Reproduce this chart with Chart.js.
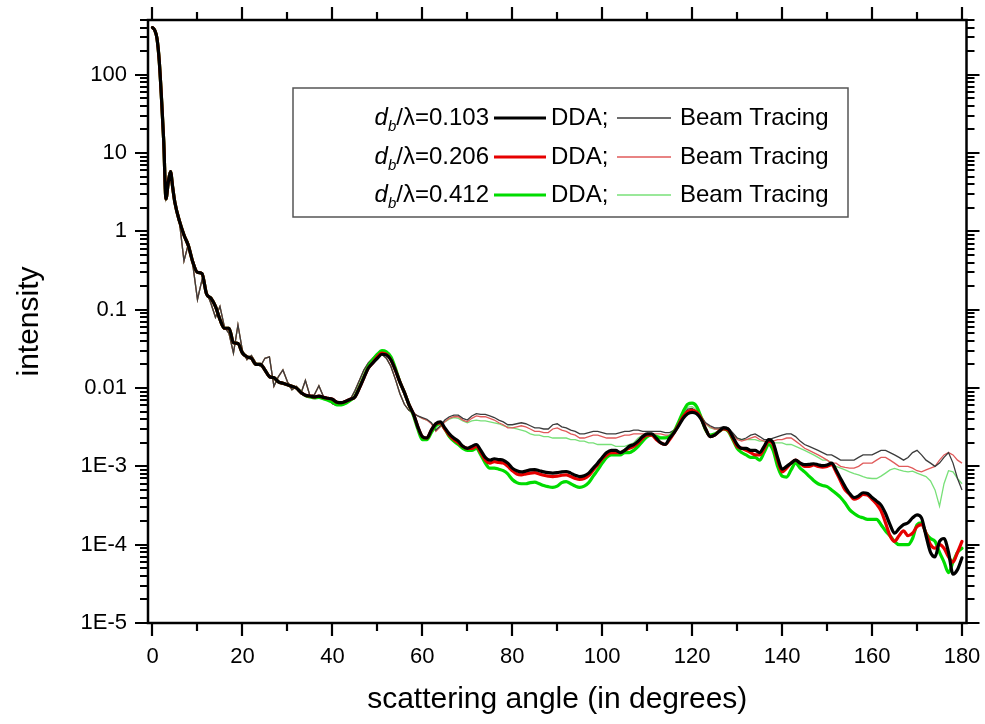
<!DOCTYPE html>
<html>
<head>
<meta charset="utf-8">
<script src="https://cdn.jsdelivr.net/npm/chart.js@4.4.0/dist/chart.umd.min.js"></script>
<style>
  html, body { margin: 0; padding: 0; background: #fff; }
  #wrap { width: 985px; height: 724px; }
</style>
</head>
<body>
<div id="wrap"><canvas id="chart" width="985" height="724"></canvas></div>
<script>
// Scattering angle grid (degrees), shared by every series
const angles = [
  0, 0.5, 1, 1.5, 2, 2.5, 3, 3.5, 4, 4.5,
  5, 6, 7, 8, 9,
  10, 11, 12, 13, 14, 15, 16, 17, 18, 19,
  20, 21, 22, 23, 24, 25, 26, 27, 28, 29,
  30, 31, 32, 33, 34, 35, 36, 37, 38, 39,
  40, 41, 42, 43, 44, 45, 46, 47, 48, 49,
  50, 51, 52, 53, 54, 55, 56, 57, 58, 59,
  60, 61, 62, 63, 64, 65, 66, 67, 68, 69,
  70, 71, 72, 73, 74, 75, 76, 77, 78, 79,
  80, 81, 82, 83, 84, 85, 86, 87, 88, 89,
  90, 91, 92, 93, 94, 95, 96, 97, 98, 99,
  100, 101, 102, 103, 104, 105, 106, 107, 108, 109,
  110, 111, 112, 113, 114, 115, 116, 117, 118, 119,
  120, 121, 122, 123, 124, 125, 126, 127, 128, 129,
  130, 131, 132, 133, 134, 135, 136, 137, 138, 139,
  140, 141, 142, 143, 144, 145, 146, 147, 148, 149,
  150, 151, 152, 153, 154, 155, 156, 157, 158, 159,
  160, 161, 162, 163, 164, 165, 166, 167, 168, 169,
  170, 171, 172, 173, 174, 175, 176, 177, 178, 179,
  180
];

// DDA, d_b/lambda = 0.103 (thick black)
const dda103 = [
  400, 370, 290, 150, 50, 14, 2.6, 4.2, 5.8, 3.6,
  2.3, 1.35, 0.9, 0.65, 0.40,
  0.30, 0.29, 0.16, 0.14, 0.11, 0.075, 0.058, 0.058, 0.038, 0.037,
  0.028, 0.025, 0.024, 0.020, 0.020, 0.017, 0.014, 0.0135, 0.012, 0.0115,
  0.011, 0.0105, 0.0100, 0.0088, 0.0081, 0.0079, 0.0077, 0.0079, 0.0076, 0.0074,
  0.0072, 0.0066, 0.0065, 0.0068, 0.0072, 0.0077, 0.0100, 0.0135, 0.018, 0.021,
  0.024, 0.027, 0.0265, 0.023, 0.017, 0.012, 0.0088, 0.0062, 0.0047, 0.0032,
  0.0024, 0.0023, 0.0029, 0.0035, 0.0037, 0.0031, 0.0026, 0.0023, 0.0021, 0.0018,
  0.0017, 0.0018, 0.0019, 0.0016, 0.0013, 0.0012, 0.00125, 0.00122, 0.0012, 0.0011,
  0.00095, 0.00088, 0.00085, 0.00087, 0.0009, 0.00091, 0.00088, 0.00085, 0.00083, 0.00082,
  0.00083, 0.00085, 0.00086, 0.00082, 0.00077, 0.00074, 0.00076, 0.00082, 0.00095, 0.0011,
  0.0013, 0.0015, 0.0016, 0.0016, 0.0015, 0.0016, 0.0018, 0.0019, 0.0021, 0.0024,
  0.0026, 0.0026, 0.0023, 0.0020, 0.0019, 0.0023, 0.0027, 0.0033, 0.0041, 0.0047,
  0.0049, 0.0047, 0.0040, 0.0030, 0.0024, 0.0025, 0.0028, 0.0031, 0.0030, 0.0024,
  0.0019, 0.0017, 0.0017, 0.0016, 0.0016, 0.0015, 0.0018, 0.0022, 0.0020, 0.0013,
  0.00092, 0.0010, 0.0011, 0.0012, 0.0011, 0.00105, 0.00106, 0.00108, 0.00105, 0.00102,
  0.00104, 0.0011, 0.0009, 0.0007, 0.00055, 0.00045, 0.00040, 0.00042, 0.00046, 0.00045,
  0.0004, 0.00036, 0.00032, 0.00025, 0.00018, 0.00014, 0.00016, 0.00018, 0.00019, 0.00022,
  0.00024, 0.00022, 0.00013, 0.00008, 0.00007, 0.00011, 0.00012, 0.00008, 0.000042, 0.000048,
  0.000068
];

// DDA, d_b/lambda = 0.206 (thick red)
const dda206 = [
  400, 370, 290, 150, 50, 14, 2.6, 4.2, 5.8, 3.6,
  2.3, 1.35, 0.9, 0.65, 0.40,
  0.30, 0.29, 0.16, 0.14, 0.11, 0.075, 0.058, 0.058, 0.038, 0.037,
  0.028, 0.025, 0.024, 0.020, 0.020, 0.017, 0.014, 0.0135, 0.012, 0.0115,
  0.011, 0.0105, 0.0100, 0.0088, 0.0081, 0.0079, 0.0077, 0.0079, 0.0076, 0.0074,
  0.0072, 0.0066, 0.0065, 0.0068, 0.0072, 0.0077, 0.0100, 0.0135, 0.018, 0.021,
  0.025, 0.028, 0.027, 0.023, 0.017, 0.012, 0.0088, 0.0062, 0.0047, 0.0032,
  0.0024, 0.0023, 0.0029, 0.0035, 0.0036, 0.0030, 0.0025, 0.0022, 0.0020, 0.0018,
  0.0017, 0.0017, 0.0018, 0.0015, 0.0012, 0.0011, 0.00115, 0.00112, 0.0011, 0.0010,
  0.00088, 0.00080, 0.00078, 0.00080, 0.00082, 0.00083, 0.0008, 0.00077, 0.00075, 0.00074,
  0.00075, 0.00077, 0.00078, 0.00074, 0.0007, 0.00068, 0.0007, 0.00076, 0.0009, 0.00105,
  0.00125, 0.0014, 0.0015, 0.0015, 0.0015, 0.0016, 0.0017, 0.0018, 0.0020, 0.0023,
  0.0025, 0.0025, 0.0022, 0.0020, 0.0019, 0.0022, 0.0027, 0.0034, 0.0043, 0.0050,
  0.0052, 0.0049, 0.0041, 0.0030, 0.0024, 0.0025, 0.0028, 0.0030, 0.0029, 0.0023,
  0.0018, 0.0017, 0.0016, 0.0015, 0.0014, 0.0014, 0.0017, 0.0021, 0.0019, 0.0012,
  0.00085, 0.00095, 0.0011, 0.0012, 0.0011, 0.001, 0.001, 0.00104, 0.001, 0.00098,
  0.001, 0.00105, 0.00085, 0.00065, 0.0005, 0.00044, 0.00038, 0.0004, 0.00044, 0.00043,
  0.00038, 0.00033, 0.00027, 0.00019, 0.00013, 0.00011, 0.00013, 0.00015, 0.00013, 0.00014,
  0.00017, 0.00018, 0.00014, 0.0001, 0.00009, 0.0001, 0.00009, 0.00007, 0.00006, 0.00008,
  0.00011
];

// DDA, d_b/lambda = 0.412 (thick green)
const dda412 = [
  400, 370, 290, 150, 50, 14, 2.6, 4.2, 5.8, 3.6,
  2.3, 1.35, 0.9, 0.65, 0.40,
  0.30, 0.29, 0.16, 0.14, 0.11, 0.075, 0.058, 0.058, 0.038, 0.037,
  0.028, 0.025, 0.024, 0.020, 0.020, 0.017, 0.014, 0.0135, 0.012, 0.0115,
  0.011, 0.0105, 0.0100, 0.0088, 0.0080, 0.0077, 0.0075, 0.0076, 0.0073, 0.0070,
  0.0066, 0.0061, 0.0061, 0.0064, 0.0070, 0.0078, 0.0103, 0.014, 0.019, 0.023,
  0.027, 0.030, 0.029, 0.025, 0.018, 0.012, 0.0088, 0.0062, 0.0045, 0.0030,
  0.0022, 0.0022, 0.0027, 0.0033, 0.0035, 0.0030, 0.0024, 0.0021, 0.0019, 0.0017,
  0.0016, 0.0016, 0.0017, 0.0014, 0.0011, 0.00095, 0.00095, 0.00092, 0.00088, 0.0008,
  0.00068, 0.00062, 0.0006, 0.0006, 0.00062, 0.00063, 0.0006, 0.00057, 0.00055, 0.00054,
  0.00056, 0.00062, 0.00064, 0.0006, 0.00056, 0.00054, 0.00056, 0.00062, 0.00075, 0.0009,
  0.0011, 0.0013, 0.0014, 0.0014, 0.0014, 0.0015, 0.0015, 0.0016, 0.0018, 0.0021,
  0.0024, 0.0025, 0.0024, 0.0023, 0.0023, 0.0024, 0.0028, 0.0037, 0.0050, 0.0062,
  0.0064, 0.0058, 0.0042, 0.0029, 0.0025, 0.0026, 0.0028, 0.0030, 0.0028, 0.0022,
  0.0017, 0.0015, 0.0014, 0.0013, 0.0013, 0.0012, 0.0015, 0.0019, 0.0016, 0.0010,
  0.00075, 0.00073, 0.0009, 0.0011, 0.00095, 0.00085, 0.00075, 0.00066, 0.0006, 0.00057,
  0.00055, 0.0005, 0.00045, 0.0004, 0.00034, 0.00028, 0.00025, 0.00023, 0.00022, 0.00021,
  0.00021, 0.00021, 0.00018, 0.00015, 0.00013, 0.00011, 0.0001, 0.0001, 0.0001, 0.00012,
  0.00018, 0.00019, 0.00014, 0.00012, 0.00011, 0.00008, 0.00006, 0.000044, 0.00006, 0.00008,
  0.00009
];

// Beam Tracing, d_b/lambda = 0.103 (thin black)
const beam103 = [
  400, 370, 290, 150, 50, 14, 2.8, 4.2, 5.5, 3.6,
  2.2, 1.3, 0.42, 0.7, 0.36,
  0.135, 0.24, 0.17, 0.12, 0.08, 0.11, 0.06, 0.05, 0.028, 0.064,
  0.03, 0.023, 0.026, 0.021, 0.019, 0.024, 0.025, 0.0105, 0.014, 0.017,
  0.012, 0.0095, 0.0105, 0.0085, 0.0125, 0.008, 0.0082, 0.0107, 0.0078, 0.0075,
  0.0063, 0.0060, 0.0060, 0.0064, 0.0072, 0.0092, 0.0125, 0.017, 0.021, 0.024,
  0.027, 0.027, 0.024, 0.019, 0.013, 0.0085, 0.0062, 0.0052, 0.0048, 0.0044,
  0.0042, 0.0040, 0.0036, 0.0029, 0.0033, 0.0039, 0.0043, 0.0045, 0.0045, 0.0041,
  0.0039, 0.0044, 0.0047, 0.0046, 0.0046, 0.0044, 0.0042, 0.0039, 0.0037, 0.0034,
  0.0034, 0.0035, 0.0036, 0.0035, 0.0033, 0.0031, 0.0031, 0.0030, 0.0030, 0.0034,
  0.0035, 0.0032, 0.0031, 0.0029, 0.0028, 0.0026, 0.0026, 0.0027, 0.0028, 0.0028,
  0.0027, 0.0026, 0.0026, 0.0026, 0.0027, 0.0028, 0.0028, 0.0029, 0.0029, 0.0028,
  0.0028, 0.0028, 0.0028, 0.0028, 0.0027, 0.0027, 0.0029, 0.0034, 0.0045, 0.0054,
  0.0055, 0.0050, 0.0043, 0.0036, 0.0033, 0.0031, 0.0031, 0.0032, 0.0031, 0.0027,
  0.0023, 0.0022, 0.0023, 0.0025, 0.0026, 0.0024, 0.0022, 0.0022, 0.0023, 0.0024,
  0.0025, 0.0026, 0.0026, 0.0024, 0.0021, 0.0019, 0.0018, 0.0017, 0.0016, 0.0015,
  0.0014, 0.0014, 0.0013, 0.0012, 0.0012, 0.0012, 0.0012, 0.0013, 0.0014, 0.0014,
  0.0014, 0.0015, 0.0016, 0.0016, 0.0015, 0.0014, 0.0013, 0.0012, 0.0013, 0.0015,
  0.0016, 0.0014, 0.0012, 0.0011, 0.0010, 0.0011, 0.0013, 0.0015, 0.0011, 0.0007,
  0.0005
];

// Beam Tracing, d_b/lambda = 0.206 (thin red)
const beam206 = [
  400, 370, 290, 150, 50, 14, 2.8, 4.2, 5.5, 3.6,
  2.2, 1.3, 0.42, 0.7, 0.36,
  0.135, 0.24, 0.17, 0.12, 0.08, 0.11, 0.06, 0.05, 0.028, 0.064,
  0.03, 0.023, 0.026, 0.021, 0.019, 0.024, 0.025, 0.0105, 0.014, 0.017,
  0.012, 0.0095, 0.0105, 0.0085, 0.0125, 0.008, 0.0082, 0.0107, 0.0078, 0.0075,
  0.0063, 0.0060, 0.0060, 0.0064, 0.0072, 0.0092, 0.0125, 0.017, 0.021, 0.024,
  0.027, 0.027, 0.024, 0.019, 0.013, 0.0085, 0.0062, 0.0052, 0.0048, 0.0044,
  0.0041, 0.0039, 0.0035, 0.0028, 0.0032, 0.0037, 0.0041, 0.0043, 0.0043, 0.0039,
  0.0037, 0.0041, 0.0044, 0.0043, 0.0043, 0.0041, 0.0039, 0.0036, 0.0034, 0.0031,
  0.0031, 0.0032, 0.0033, 0.0032, 0.0030, 0.0028, 0.0028, 0.0027, 0.0027, 0.0030,
  0.0031, 0.0029, 0.0028, 0.0026, 0.0025, 0.0023, 0.0023, 0.0024, 0.0025, 0.0025,
  0.0024, 0.0023, 0.0023, 0.0023, 0.0024, 0.0025, 0.0025, 0.0026, 0.0026, 0.0026,
  0.0026, 0.0026, 0.0026, 0.0026, 0.0025, 0.0025, 0.0028, 0.0033, 0.0043, 0.0052,
  0.0053, 0.0049, 0.0043, 0.0035, 0.0032, 0.0030, 0.0030, 0.0031, 0.0030, 0.0026,
  0.0022, 0.0021, 0.0022, 0.0023, 0.0024, 0.0022, 0.0021, 0.0020, 0.0021, 0.0022,
  0.0022, 0.0023, 0.0023, 0.0021, 0.0019, 0.0017, 0.0016, 0.0015, 0.0014, 0.0013,
  0.0012, 0.0011, 0.0011, 0.0010, 0.00097, 0.00095, 0.00095, 0.001, 0.0011, 0.0011,
  0.0011, 0.0012, 0.0013, 0.0013, 0.0012, 0.0011, 0.0010, 0.0010, 0.0010, 0.00095,
  0.00088, 0.00085, 0.00090, 0.00095, 0.0010, 0.0012, 0.0014, 0.0015, 0.0014, 0.0012,
  0.0011
];

// Beam Tracing, d_b/lambda = 0.412 (thin green)
const beam412 = [
  400, 370, 290, 150, 50, 14, 2.8, 4.2, 5.5, 3.6,
  2.2, 1.3, 0.42, 0.7, 0.36,
  0.135, 0.24, 0.17, 0.12, 0.08, 0.11, 0.06, 0.05, 0.028, 0.064,
  0.03, 0.023, 0.026, 0.021, 0.019, 0.024, 0.025, 0.0105, 0.014, 0.017,
  0.012, 0.0095, 0.0105, 0.0085, 0.0125, 0.008, 0.0082, 0.0107, 0.0078, 0.0075,
  0.0063, 0.0060, 0.0060, 0.0064, 0.0072, 0.0092, 0.0125, 0.017, 0.021, 0.024,
  0.027, 0.027, 0.024, 0.019, 0.013, 0.0085, 0.0062, 0.0052, 0.0048, 0.0044,
  0.0041, 0.0039, 0.0036, 0.0030, 0.0032, 0.0037, 0.0040, 0.0042, 0.0041, 0.0038,
  0.0036, 0.0038, 0.0039, 0.0038, 0.0038, 0.0037, 0.0036, 0.0035, 0.0033, 0.0032,
  0.0031, 0.0030, 0.0029, 0.0028, 0.0026, 0.0025, 0.0025, 0.0024, 0.0024, 0.0023,
  0.0023, 0.0023, 0.0023, 0.0022, 0.0022, 0.0021, 0.0021, 0.0020, 0.0020, 0.0019,
  0.0019, 0.0019, 0.0019, 0.0018, 0.0018, 0.0018, 0.0019, 0.0020, 0.0023, 0.0025,
  0.0026, 0.0026, 0.0025, 0.0024, 0.0024, 0.0025, 0.0029, 0.0036, 0.0048, 0.0057,
  0.0058, 0.0053, 0.0045, 0.0035, 0.0031, 0.0030, 0.0030, 0.0030, 0.0029, 0.0026,
  0.0023, 0.0022, 0.0022, 0.0022, 0.0022, 0.0021, 0.0021, 0.0020, 0.0020, 0.0020,
  0.0020, 0.0019, 0.0019, 0.0018, 0.0017, 0.0016, 0.0015, 0.0014, 0.0013, 0.0012,
  0.0012, 0.0011, 0.0010, 0.00095, 0.0009, 0.00085, 0.00081, 0.00078, 0.00074, 0.00071,
  0.0007, 0.0007, 0.00075, 0.00082, 0.0009, 0.00094, 0.0009, 0.00087, 0.00085, 0.00087,
  0.00082, 0.00078, 0.00074, 0.00065, 0.0005, 0.00031, 0.0006, 0.00088, 0.00085, 0.0007,
  0.0006
];

// Axis ticks and labels
const xTicks = [0, 20, 40, 60, 80, 100, 120, 140, 160, 180];
const xMinorTicks = [10, 30, 50, 70, 90, 110, 130, 150, 170];
const yDecades = [1e-5, 1e-4, 1e-3, 0.01, 0.1, 1, 10, 100];
const yTickLabels = ['1E-5', '1E-4', '1E-3', '0.01', '0.1', '1', '10', '100'];

// Legend rows
const ratioLabels = ['0.103', '0.206', '0.412'];
const ddaColors = ['#000000', '#e60000', '#00dc00'];
const beamColors = ['#3c3c3c', '#e05a5a', '#78e078'];

const FONT = "'Liberation Sans', Arial, sans-serif";

function toPoints(values) {
  return angles.map((a, i) => ({ x: a, y: values[i] }));
}

const ddaSeries = [dda103, dda206, dda412];
const beamSeries = [beam103, beam206, beam412];

const datasets = [];
ddaSeries.forEach((vals, i) => {
  datasets.push({
    label: 'DDA ' + ratioLabels[i],
    data: toPoints(vals),
    borderColor: ddaColors[i],
    borderWidth: 3.2,
    pointRadius: 0,
    cubicInterpolationMode: 'monotone',
    borderJoinStyle: 'round',
    borderCapStyle: 'round',
    order: i
  });
});
beamSeries.forEach((vals, i) => {
  datasets.push({
    label: 'Beam Tracing ' + ratioLabels[i],
    data: toPoints(vals),
    borderColor: beamColors[i],
    borderWidth: 1.3,
    pointRadius: 0,
    tension: 0,
    order: 3 + i
  });
});

// Frame with outward ticks on all four sides
const frameTicks = {
  id: 'frameTicks',
  afterDraw(chart) {
    const { ctx, chartArea: a, scales: { x, y } } = chart;
    ctx.save();
    ctx.strokeStyle = '#000';
    ctx.lineWidth = 2.5;
    ctx.strokeRect(a.left, a.top, a.right - a.left, a.bottom - a.top);
    ctx.lineWidth = 2.2;
    ctx.beginPath();
    x.ticks.forEach(t => {
      const px = Math.round(x.getPixelForValue(t.value));
      const len = xTicks.includes(t.value) ? 13 : 8;
      ctx.moveTo(px, a.bottom);
      ctx.lineTo(px, a.bottom + len);
      ctx.moveTo(px, a.top);
      ctx.lineTo(px, a.top - len);
    });
    y.ticks.forEach(t => {
      const py = Math.round(y.getPixelForValue(t.value));
      const len = yDecades.includes(t.value) ? 13 : 8;
      ctx.moveTo(a.left, py);
      ctx.lineTo(a.left - len, py);
      ctx.moveTo(a.right, py);
      ctx.lineTo(a.right + len, py);
    });
    ctx.stroke();
    ctx.restore();
  }
};

// Legend box drawn by hand (italic d with subscript b)
const customLegend = {
  id: 'customLegend',
  afterDraw(chart) {
    const ctx = chart.ctx;
    const box = { left: 293, top: 88, right: 848, bottom: 217 };
    const rowY = [118, 157, 195];
    const labelRight = 489;
    const fs = 24;
    ctx.save();
    ctx.fillStyle = '#fff';
    ctx.fillRect(box.left, box.top, box.right - box.left, box.bottom - box.top);
    ctx.strokeStyle = '#555';
    ctx.lineWidth = 1.5;
    ctx.strokeRect(box.left, box.top, box.right - box.left, box.bottom - box.top);
    ctx.fillStyle = '#000';
    ctx.textBaseline = 'middle';
    ratioLabels.forEach((r, i) => {
      const y = rowY[i];
      const rest = '/\u03bb=' + r;
      ctx.font = 'italic ' + fs + 'px ' + FONT;
      const wd = ctx.measureText('d').width;
      ctx.font = 'italic 15px ' + FONT;
      const wb = ctx.measureText('b').width;
      ctx.font = fs + 'px ' + FONT;
      const wr = ctx.measureText(rest).width;
      const x0 = labelRight - (wd + wb + wr);
      ctx.textAlign = 'left';
      ctx.font = 'italic ' + fs + 'px ' + FONT;
      ctx.fillText('d', x0, y);
      ctx.font = 'italic 15px ' + FONT;
      ctx.fillText('b', x0 + wd, y + 9);
      ctx.font = fs + 'px ' + FONT;
      ctx.fillText(rest, x0 + wd + wb, y);

      ctx.strokeStyle = ddaColors[i];
      ctx.lineWidth = 3.2;
      ctx.beginPath();
      ctx.moveTo(494, y);
      ctx.lineTo(546, y);
      ctx.stroke();
      ctx.fillText('DDA;', 551, y);

      ctx.strokeStyle = beamColors[i];
      ctx.lineWidth = 1.3;
      ctx.beginPath();
      ctx.moveTo(617, y);
      ctx.lineTo(671, y);
      ctx.stroke();
      ctx.fillText('Beam Tracing', 680, y);
    });
    ctx.restore();
  }
};

const allXTicks = xTicks.concat(xMinorTicks).sort((a, b) => a - b);

new Chart(document.getElementById('chart'), {
  type: 'line',
  data: { datasets },
  options: {
    responsive: false,
    animation: false,
    devicePixelRatio: 1,
    parsing: false,
    layout: { padding: { top: 20, right: 18.5, left: 0, bottom: 0 } },
    plugins: {
      legend: { display: false },
      tooltip: { enabled: false }
    },
    scales: {
      x: {
        type: 'linear',
        min: -1,
        max: 181,
        afterBuildTicks: axis => { axis.ticks = allXTicks.map(v => ({ value: v })); },
        afterFit: axis => {
          axis.height = 101;
          axis.paddingLeft = 0;
          axis.paddingRight = 0;
        },
        grid: { display: false, drawTicks: false },
        border: { display: false },
        ticks: {
          autoSkip: false,
          maxRotation: 0,
          padding: 21,
          color: '#000',
          font: { family: FONT, size: 22 },
          callback: v => (xTicks.includes(v) ? String(v) : '')
        },
        title: {
          display: true,
          text: 'scattering angle (in degrees)',
          color: '#000',
          font: { family: FONT, size: 30 },
          padding: { top: 0, bottom: 6 }
        }
      },
      y: {
        type: 'logarithmic',
        min: 1e-5,
        max: 500,
        afterBuildTicks: axis => {
          const ticks = [];
          yDecades.forEach(d => {
            for (let k = 1; k <= 9; k++) {
              const v = k === 1 ? d : d * k;
              if (v <= 500) ticks.push({ value: v });
            }
          });
          axis.ticks = ticks;
        },
        afterFit: axis => {
          axis.width = 148;
          axis.paddingTop = 0;
          axis.paddingBottom = 0;
        },
        grid: { display: false, drawTicks: false },
        border: { display: false },
        ticks: {
          autoSkip: false,
          padding: 21,
          color: '#000',
          font: { family: FONT, size: 22 },
          callback: v => {
            const idx = yDecades.indexOf(v);
            return idx >= 0 ? yTickLabels[idx] : '';
          }
        },
        title: {
          display: true,
          text: 'intensity',
          color: '#000',
          font: { family: FONT, size: 30 },
          padding: { top: 12, bottom: 0 }
        }
      }
    }
  },
  plugins: [frameTicks, customLegend]
});
</script>
</body>
</html>
